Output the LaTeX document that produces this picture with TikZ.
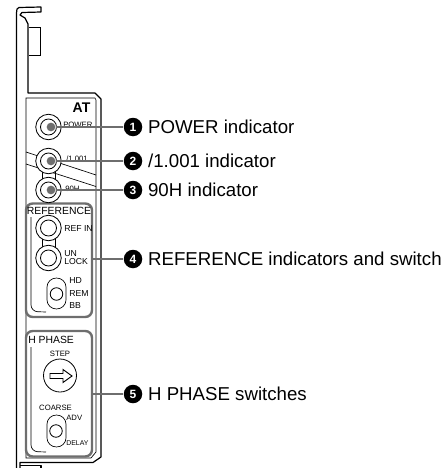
\documentclass[tikz,border=0pt]{standalone}
\usepackage{fontspec}
\setmainfont{Liberation Sans}
\usetikzlibrary{positioning}
\definecolor{leadgray}{HTML}{6E6E6E}
\begin{document}
\begin{tikzpicture}[
  x=0.75pt, y=-0.75pt,
  panel/.style={line width=0.9pt, line join=round},
  thinline/.style={line width=0.5pt},
  led/.style={circle, draw, line width=0.6pt, fill=white, minimum size=25.5*0.75pt, inner sep=0pt},
  ledin/.style={circle, draw, line width=0.6pt, fill=white, minimum size=16*0.75pt, inner sep=0pt},
  dot/.style={circle, fill=leadgray, minimum size=8.7*0.75pt, inner sep=0pt},
  knob/.style={circle, draw, line width=0.6pt, minimum size=12.5*0.75pt, inner sep=0pt},
  badge/.style={circle, fill=black, text=white, font=\fontsize{9}{9}\selectfont\bfseries, minimum size=18.5*0.75pt, inner sep=0pt},
  desc/.style={font=\fontsize{14}{16}\selectfont, inner sep=0pt},
  tiny/.style={font=\fontsize{5.8}{6}\selectfont, inner sep=0pt},
  small/.style={font=\fontsize{6.5}{7}\selectfont, inner sep=0pt},
  head/.style={font=\fontsize{7.8}{8}\selectfont, inner sep=0pt},
  group/.style={draw=leadgray, line width=1.8pt, rounded corners=5pt},
  lead/.style={draw=leadgray, line width=1.8pt}
]
\useasboundingbox (0,0) rectangle (448,468);
% panel outline
\draw[panel] (16.5,468) -- (16.5,13) -- (17,9) -- (19,7.5) -- (41,7) -- (41,12) -- (22,12.5) -- (20,15) -- (25,18) -- (28,24) -- (28,93) -- (95,93) -- (101,99) -- (101,457) -- (93,462.5) -- (20,462.5) -- (20,468);
\draw[panel] (20,465.5) -- (41,465.5) -- (41,468);
\draw[thinline] (26,98) -- (95,98) -- (96,100) -- (96,452) -- (91,458) -- (26,458) -- cycle;
\draw[thinline] (29,27) -- (40,27) -- (40,55) -- (29,55);
\draw[thinline] (26,152) -- (96,175);
\draw[thinline] (26,164) -- (96,186.5);
\draw[thinline] (42.5,170) -- (42.5,182) (55,170) -- (55,182);
\draw[thinline] (42.5,238) -- (42.5,248) (55,238) -- (55,248);
\draw[thinline, rounded corners=5pt] (31,217) -- (31,311.5) -- (46,312);
\draw[thinline, rounded corners=5pt] (31,347) -- (31,451.5) -- (46,452);
% group frames
\draw[group] (26,203.5) rectangle (92,317);
\draw[group] (26,331) rectangle (92,456.5);
% indicators
\node[led] (power) at (48.5,127) {};
\node[ledin] at (power) {};
\node[dot] (powerdot) at (51,127) {};
\node[led] (ntsc) at (48.5,161) {};
\node[ledin] at (ntsc) {};
\node[dot] (ntscdot) at (51,161) {};
\node[led] (hninety) at (48.5,190) {};
\node[ledin] at (hninety) {};
\node[dot] (hninetydot) at (51,190) {};
\node[led] (refin) at (48.5,228) {};
\node[ledin] at (refin) {};
\node[led] (unlock) at (48.5,258) {};
\node[ledin] at (unlock) {};
% switches
\draw[thinline, fill=white] (47,287) arc (180:360:9.5 and 9) -- (66,300) arc (0:180:9.5 and 9) -- cycle;
\node[knob] (refsw) at (56.5,294) {};
\draw[thinline, fill=white] (47,424) arc (180:360:9.5 and 9) -- (66,438) arc (0:180:9.5 and 9) -- cycle;
\node[knob] (coarsesw) at (56,431) {};
\node[circle, draw, line width=0.6pt, minimum size=33*0.75pt, inner sep=0pt] (stepbtn) at (60,375.5) {};
\draw[line width=0.7pt, line join=miter] (50,373.5) -- (63,373.5) -- (63,369.5) -- (72,376) -- (63,382.5) -- (63,378.5) -- (50,378.5) -- cycle;
% panel texts
\node[font=\fontsize{10.5}{10}\selectfont\bfseries, inner sep=0pt] (at) at (81.5,108) {AT};
\node[tiny, anchor=west] (powertxt) at (63,125) {POWER};
\node[tiny, anchor=west] (ntsctxt) at (66,159) {/1.001};
\node[tiny, anchor=west] (hninetytxt) at (65,189) {90H};
\node[head] (reftxt) at (59,211) {REFERENCE};
\node[small, anchor=west] (refintxt) at (64,229) {REF IN};
\node[small, anchor=west] (untxt) at (64,253.5) {UN};
\node[small, below=1pt of untxt.south west, anchor=north west] (locktxt) {LOCK};
\node[small, anchor=west] (hdtxt) at (69,281) {HD};
\node[small, anchor=west] (remtxt) at (69,294) {REM};
\node[small, anchor=west] (bbtxt) at (69,306) {BB};
\node[head, anchor=west] (phasetxt) at (28,340) {H PHASE};
\node[tiny] (steptxt) at (60,354) {STEP};
\node[tiny] (coarsetxt) at (55.5,408) {COARSE};
\node[tiny, anchor=west] (advtxt) at (66,418) {ADV};
\node[font=\fontsize{5.2}{6}\selectfont, inner sep=0pt, anchor=west] (delaytxt) at (66,443) {DELAY};
% callouts
\node[badge] (b1) at (133,127) {1};
\node[badge] (b2) at (133,161) {2};
\node[badge] (b3) at (133,190) {3};
\node[badge] (b4) at (133,259) {4};
\node[badge] (b5) at (133,394) {5};
\node[desc, right=4pt of b1] (d1) {POWER indicator};
\node[desc, right=4pt of b2] (d2) {/1.001 indicator};
\node[desc, right=4pt of b3] (d3) {90H indicator};
\node[desc, right=4pt of b4] (d4) {REFERENCE indicators and switch};
\node[desc, right=4pt of b5] (d5) {H PHASE switches};
\coordinate (e4) at (92,259);
\coordinate (e5) at (92,394);
\draw[lead] (powerdot) -- (b1);
\draw[lead] (ntscdot) -- (b2);
\draw[lead] (hninetydot) -- (b3);
\draw[lead] (e4) -- (b4);
\draw[lead] (e5) -- (b5);
\end{tikzpicture}
\end{document}
